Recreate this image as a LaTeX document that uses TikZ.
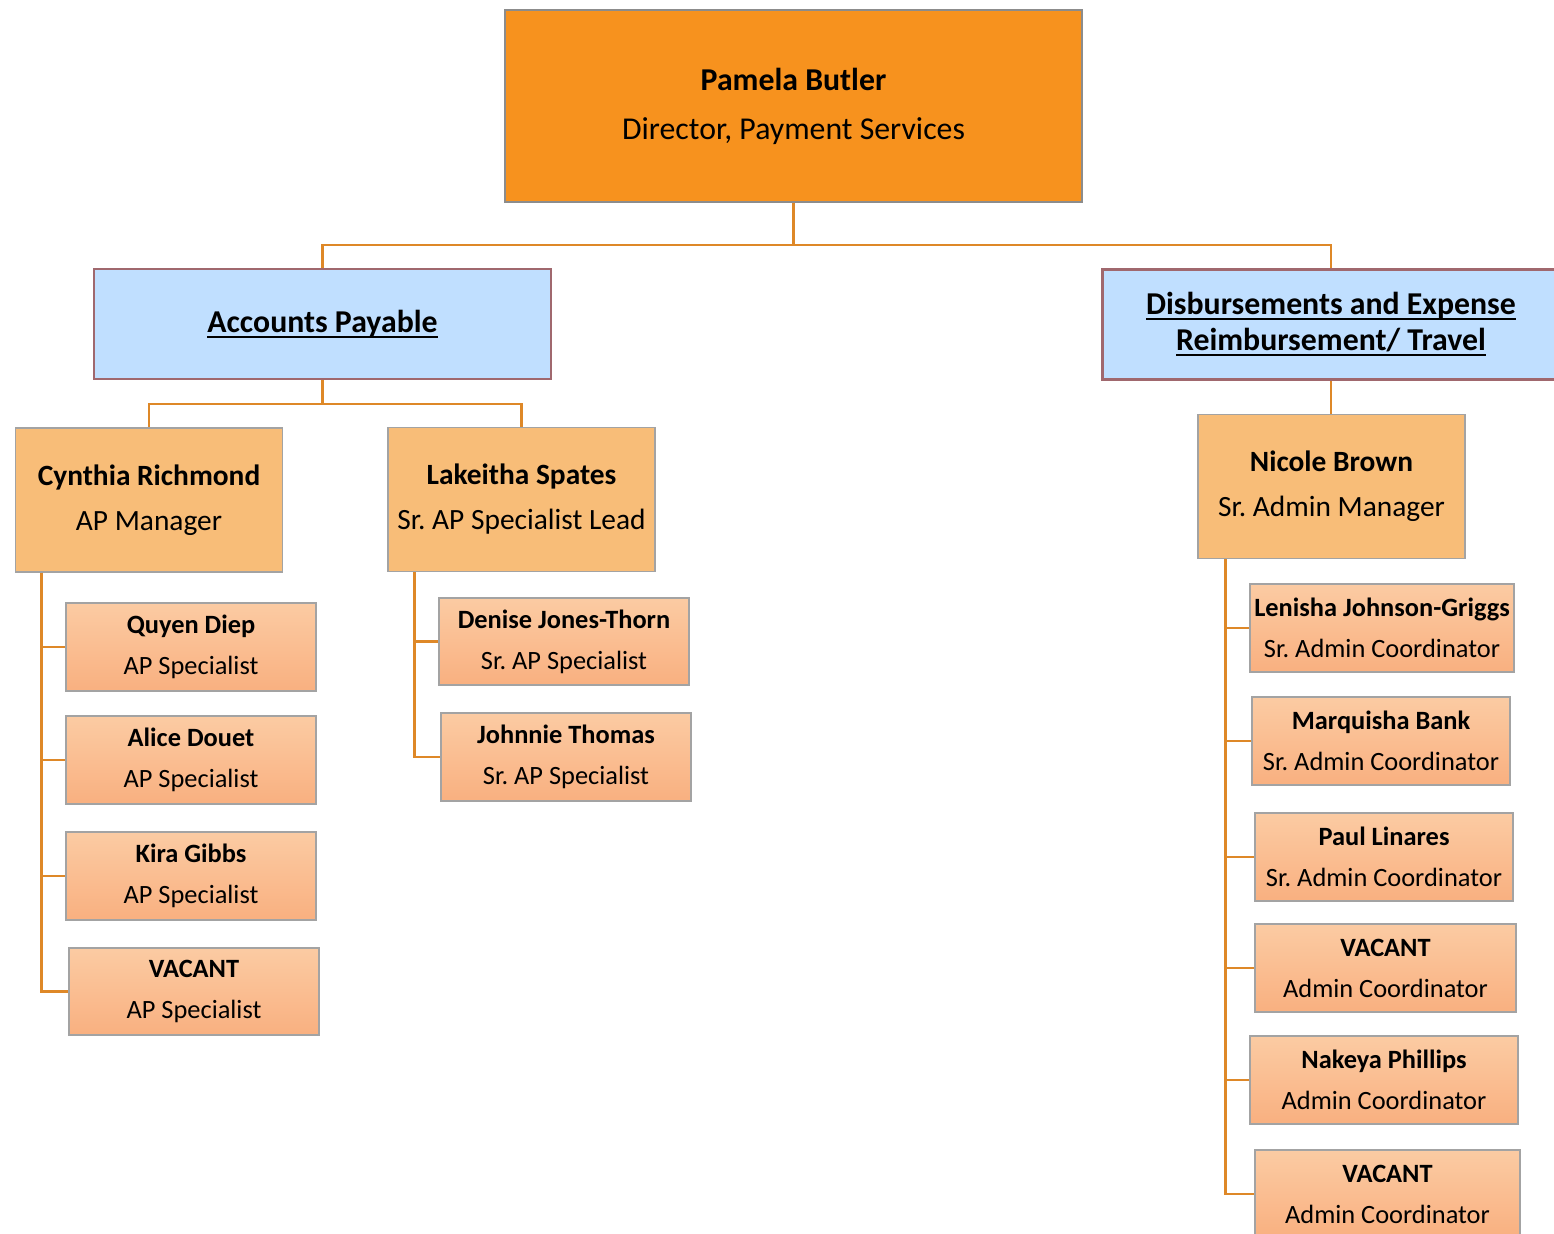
\documentclass[tikz,border=0pt]{standalone}
\usepackage{fontspec}
\setmainfont{Carlito}
\frenchspacing
\newcommand{\ulbar}[1]{\setbox0\hbox{#1}\rlap{\rule[-2.8pt]{\wd0}{1pt}}\box0}
\usetikzlibrary{positioning,calc}
\definecolor{topfill}{RGB}{247,146,30}
\definecolor{midfill}{RGB}{248,189,120}
\definecolor{bluefill}{RGB}{192,223,255}
\definecolor{blueline}{RGB}{160,104,110}
\definecolor{leaftop}{RGB}{251,203,163}
\definecolor{leafbot}{RGB}{249,176,128}
\definecolor{linkcol}{RGB}{222,136,40}
\definecolor{boxline}{RGB}{140,140,140}

\begin{document}
\begin{tikzpicture}[x=0.5pt,y=-0.5pt,
	head/.style={rectangle,draw=boxline,line width=0.8pt,fill=topfill,minimum width=288.5pt,minimum height=96pt,align=center,inner sep=0pt,font=\fontsize{15.9pt}{24.5pt}\selectfont},
	dept/.style={rectangle,draw=blueline,line width=1.4pt,fill=bluefill,minimum width=228.5pt,minimum height=55pt,align=center,inner sep=0pt,font=\bfseries\fontsize{15.9pt}{18pt}\selectfont},
	boss/.style={rectangle,draw=boxline!80,line width=0.9pt,fill=midfill,minimum width=133.5pt,minimum height=72pt,align=center,inner sep=0pt,font=\fontsize{14.7pt}{22.5pt}\selectfont},
	leaf/.style={rectangle,draw=boxline!80,line width=0.9pt,top color=leaftop,bottom color=leafbot,minimum height=43.75pt,align=center,inner sep=0pt,font=\fontsize{13.2pt}{20.5pt}\selectfont},
	link/.style={draw=linkcol,line width=1.4pt}]
\useasboundingbox (0,0) rectangle (1554,1234);
\clip (0,0) rectangle (1554,1234);

% director and the two units
\node[head] at (793.5,106) (dir) {\textbf{Pamela Butler}\\Director, Payment Services};
\node[dept] at (322.5,324) (ap) {\ulbar{Accounts Payable}};
\node[dept] at (1331,324.5) (der) {\ulbar{Disbursements and Expense}\\\ulbar{Reimbursement/ Travel}};

% managers
\node[boss] at (149,500) (cyn) {\textbf{Cynthia Richmond}\\AP Manager};
\node[boss] at (521.5,499.5) (lak) {\textbf{Lakeitha Spates}\\Sr. AP Specialist Lead};
\node[boss] at (1331.5,486.5) (nic) {\textbf{Nicole Brown}\\Sr. Admin Manager};

% staff
\foreach \x/\y/\w/\n/\who/\job in {191/647/125/q1/Quyen Diep/AP Specialist,
	191/760/125/q2/Alice Douet/AP Specialist,
	191/876/125/q3/Kira Gibbs/AP Specialist,
	194/991.5/125/q4/VACANT/AP Specialist,
	564/641.5/125/s1/Denise Jones-Thorn/Sr. AP Specialist,
	566/757/125/s2/Johnnie Thomas/Sr. AP Specialist,
	1382/628/132/t1/Lenisha Johnson-Griggs/Sr. Admin Coordinator,
	1381/741/129/t2/Marquisha Bank/Sr. Admin Coordinator,
	1384/857/129/t3/Paul Linares/Sr. Admin Coordinator,
	1385.5/968/130.5/t4/VACANT/Admin Coordinator,
	1384/1080/134/t5/Nakeya Phillips/Admin Coordinator,
	1387.5/1194/132.5/t6/VACANT/Admin Coordinator}
	\node[leaf,minimum width=\w pt] at (\x,\y) (\n) {\textbf{\who}\\\job};

% connectors
\coordinate (j1) at (793.5,245);
\draw[link] (dir.south) -- (j1) -| (ap.north);
\draw[link] (j1) -| (der.north);
\coordinate (j2) at (322.5,404);
\draw[link] (ap.south) -- (j2) -| (cyn.north);
\draw[link] (j2) -| (lak.north);
\draw[link] (der.south) -- (der.south |- nic.north);
\foreach \n in {q1,q2,q3,q4}
	\draw[link] ([xshift=13.5pt]cyn.south west) |- (\n.west);
\foreach \n in {s1,s2}
	\draw[link] ([xshift=13.5pt]lak.south west) |- (\n.west);
\foreach \n in {t1,t2,t3,t4,t5,t6}
	\draw[link] ([xshift=14pt]nic.south west) |- (\n.west);
\end{tikzpicture}
\end{document}
